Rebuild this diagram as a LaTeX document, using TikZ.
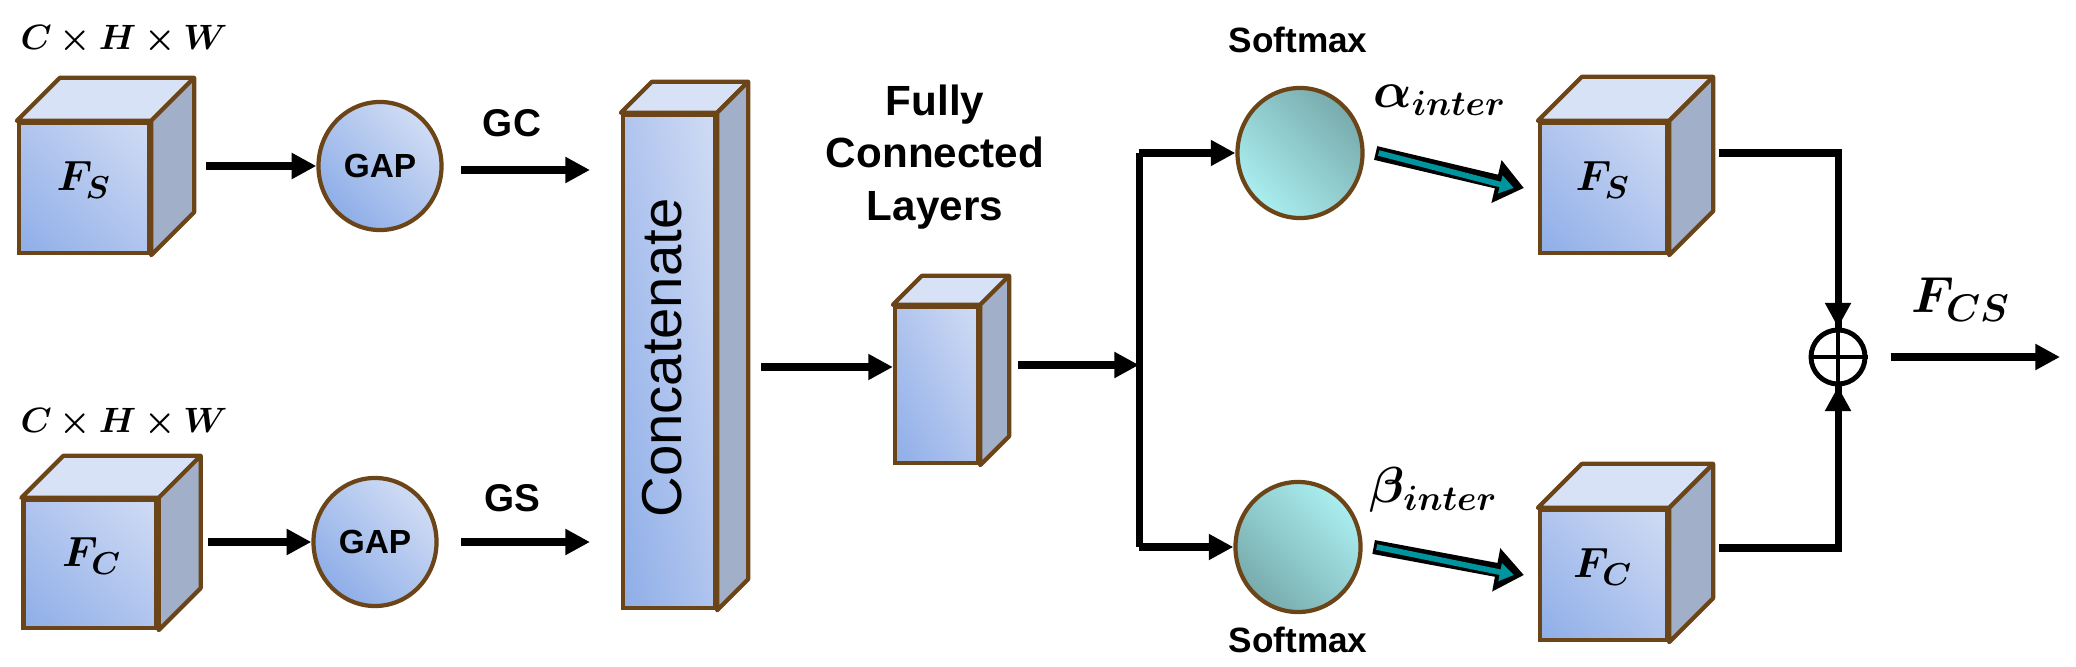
\documentclass[tikz,border=0pt]{standalone}
\usepackage{fontspec}
\setmainfont{Liberation Sans}
\usepackage{amsmath,bm}
\usetikzlibrary{shapes.geometric,arrows.meta,calc,shadings}
\definecolor{brn}{HTML}{6B4517}
\definecolor{fdark}{HTML}{8EAEE8}
\definecolor{flight}{HTML}{D0DCF4}
\definecolor{fmid}{HTML}{B0C4EE}
\definecolor{topc}{HTML}{D8E2F6}
\definecolor{sidec}{HTML}{A2AFC8}
\definecolor{tlight}{HTML}{AAEEF0}
\definecolor{tdark}{HTML}{78ABAD}
\definecolor{teal}{HTML}{00959E}
\tikzset{
  front/.style={draw=brn,line width=1.2pt,inner sep=0pt,
    lower left=fdark,upper right=flight,upper left=fmid,lower right=fmid},
  topf/.style={draw=brn,line width=1.2pt,line join=round,fill=topc},
  sidef/.style={draw=brn,line width=1.2pt,line join=round,fill=sidec},
  gap/.style={ellipse,draw=brn,line width=1.2pt,minimum width=1.23cm,minimum height=1.28cm,
    inner sep=0pt,bottom color=fdark,top color=flight,shading angle=-45},
  soft/.style={ellipse,draw=brn,line width=1.2pt,minimum width=1.25cm,minimum height=1.3cm,inner sep=0pt},
  arr/.style={line width=2pt,-{Triangle[length=7pt,width=7pt]}},
  ln/.style={line width=2pt},
  lbl/.style={font=\bfseries,inner sep=0pt},
  mth/.style={inner sep=0pt},
}
\newcommand\cubefaces[2]{% name, depth
  \path[topf] (#1.north west) -- ++(#2,-#2) -- ($(#1.north east)+(#2,-#2)$) -- (#1.north east) -- cycle;
  \path[sidef] (#1.north east) -- ++(#2,-#2) -- ($(#1.south east)+(#2,-#2)$) -- (#1.south east) -- cycle;
}
\begin{document}
\begin{tikzpicture}[x=0.01cm,y=-0.01cm]
\useasboundingbox (0,0) rectangle (2076,667);
% cubes
\node[front,minimum width=1.30cm,minimum height=1.30cm] (cs) at (84,188) {};
\cubefaces{cs}{43}
\node[mth] at (84,180) {\fontsize{13}{13}\selectfont$\bm{F_S}$};
\node[mth] at (124,40) {\fontsize{10}{10}\selectfont$\bm{C\times H\times W}$};

\node[front,minimum width=1.33cm,minimum height=1.28cm] (cc) at (90,564) {};
\cubefaces{cc}{42}
\node[mth] at (92,556) {\fontsize{13}{13}\selectfont$\bm{F_C}$};
\node[mth] at (124,423) {\fontsize{10}{10}\selectfont$\bm{C\times H\times W}$};

\node[gap] (g1) at (380,166) {};
\node[lbl,font=\bfseries\fontsize{9.5}{10}\selectfont] at (g1) {GAP};
\node[gap] (g2) at (375,542) {};
\node[lbl,font=\bfseries\fontsize{9.5}{10}\selectfont] at (g2) {GAP};

\node[front,minimum width=0.92cm,minimum height=4.93cm] (cat) at (669,361.5) {};
\cubefaces{cat}{31}
\node[rotate=90,font=\fontsize{16}{16}\selectfont,inner sep=0pt] at (662,358) {Concatenate};

\node[front,minimum width=0.83cm,minimum height=1.56cm] (fc) at (936.5,385) {};
\cubefaces{fc}{29}
\node[lbl,align=center,font=\bfseries\fontsize{12}{15}\selectfont] at (935,157) {Fully\\Connected\\Layers};

\node[soft,bottom color=tlight,top color=tdark,shading angle=-45] (s1) at (1300,153) {};
\node[lbl,font=\bfseries\fontsize{10}{10}\selectfont] at (1298,40) {Softmax};
\node[soft,bottom color=tdark,top color=tlight,shading angle=-45] (s2) at (1298,547) {};
\node[lbl,font=\bfseries\fontsize{10}{10}\selectfont] at (1298,640) {Softmax};

\node[front,minimum width=1.27cm,minimum height=1.30cm] (rs) at (1603.5,188) {};
\cubefaces{rs}{44}
\node[mth] at (1603,180) {\fontsize{13}{13}\selectfont$\bm{F_S}$};
\node[front,minimum width=1.27cm,minimum height=1.30cm] (rc) at (1603.5,575) {};
\cubefaces{rc}{44}
\node[mth] at (1603,567) {\fontsize{13}{13}\selectfont$\bm{F_C}$};

\node[circle,draw,line width=1.4pt,minimum size=0.54cm,inner sep=0pt] (op) at (1838,357) {};
\draw[line width=1.4pt] (op.north) -- (op.south) (op.west) -- (op.east);

% labels
\node[lbl,font=\bfseries\fontsize{11}{11}\selectfont] at (512,123) {GC};
\node[lbl,font=\bfseries\fontsize{11}{11}\selectfont] at (512,498) {GS};
\node[mth] at (1440,100) {\fontsize{14}{14}\selectfont$\bm{\alpha_{inter}}$};
\node[mth] at (1434,490) {\fontsize{14}{14}\selectfont$\bm{\beta_{inter}}$};
\node[mth] at (1961,300) {\fontsize{15}{15}\selectfont$\bm{F_{CS}}$};

% coordinates
\coordinate (a1s) at (206,166);
\coordinate (a2s) at (208,542);
\coordinate (gcs) at (461,170);
\coordinate (gce) at (590,170);
\coordinate (gss) at (461,542);
\coordinate (gse) at (590,542);
\coordinate (cats) at (761,367);
\coordinate (fcs) at (1018,365);
\coordinate (jn) at (1139,365);
\coordinate (jt) at (1139,153);
\coordinate (jb) at (1139,547);
\coordinate (rst) at (1719,153);
\coordinate (rcb) at (1719,548);
\coordinate (out) at (2060,357);

% connectors
\draw[arr] (a1s) -- (g1.west);
\draw[arr] (a2s) -- (g2.west);
\draw[arr] (gcs) -- (gce);
\draw[arr] (gss) -- (gse);
\draw[arr] (cats) -- (cats -| fc.west);
\draw[arr] (fcs) -- (jn);
\draw[ln] (jt) -- (jb);
\draw[arr] (jt) -- (s1.west);
\draw[arr] (jb) -- (s2.west);
\draw[ln] (rst) -| (op.north);
\draw[arr] (rst -| op) -- (op.north);
\draw[ln] (rcb) -| (op.south);
\draw[arr] (rcb -| op) -- (op.south);
\draw[arr] ($(op.east)+(23,0)$) -- (out);

% teal arrows
\foreach \a/\b in {s1/rs, s2/rc}{
  \draw[line width=4pt,-{Triangle[length=8pt,width=12pt]}] ($(\a.east)+(11,0)$) -- ($(\b.west)+(-14,0)$);
  \draw[teal,line width=1.6pt,-{Triangle[length=4pt,width=5pt]}] ($(\a.east)+(14,0)$) -- ($(\b.west)+(-24,0)$);
}
\end{tikzpicture}
\end{document}
